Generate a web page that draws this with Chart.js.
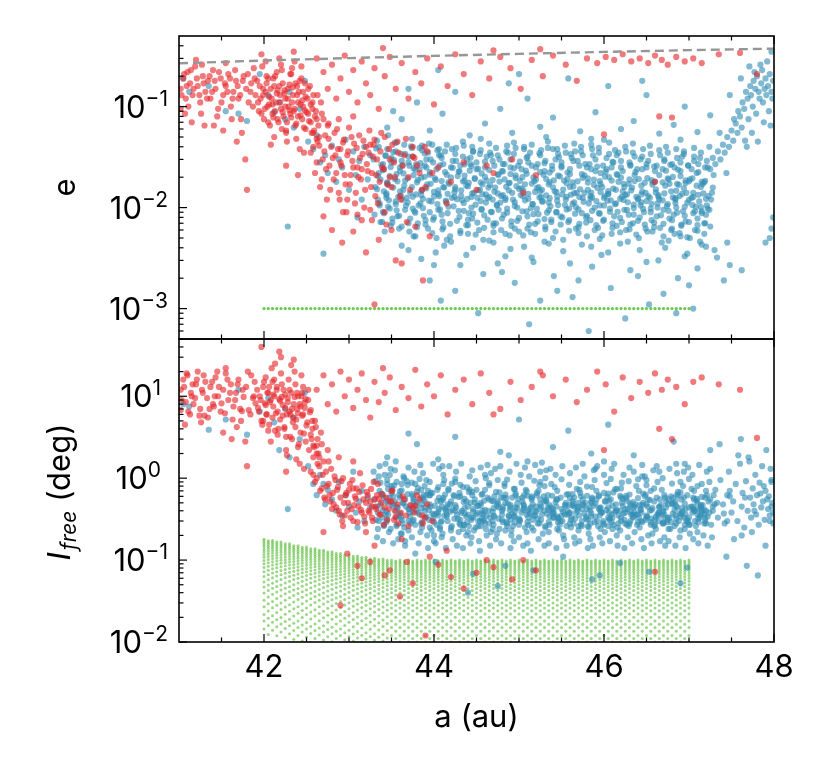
<!DOCTYPE html>
<html>
<head>
<meta charset="utf-8">
<script src="https://cdn.jsdelivr.net/npm/chart.js@4.4.0/dist/chart.umd.min.js"></script>
<style>
  body { margin: 0; background: #fff; }
  #wrap { position: relative; width: 830px; height: 775px; }
  #wrap canvas { position: absolute; left: 0; top: 0; }
</style>
</head>
<body>
<div id="wrap">
  <canvas id="topChart" width="830" height="775"></canvas>
  <canvas id="bottomChart" width="830" height="775"></canvas>
</div>
<script>
// particles: [a (au), e, I_free (deg)]
const blueCore = [
  [43.30,.0085,.55],[43.34,.012,.38],[43.31,.016,.92],[43.35,.022,.30],[43.29,.030,1.2],[43.33,.046,.45],
  [43.39,.0072,.33],[43.36,.011,.70],[43.41,.0145,.26],[43.37,.019,.48],[43.40,.027,.62],[43.35,.040,1.05],
  [43.40,.0091,.41],[43.44,.0125,.29],[43.45,.0175,.85],[43.41,.024,.57],[43.43,.033,.36],[43.46,.052,.74],
  [43.49,.0066,.24],[43.46,.0102,.50],[43.44,.0138,.39],[43.48,.0205,1.1],[43.50,.028,.66],[43.45,.038,.31],
  [43.51,.0078,.46],[43.55,.0115,.33],[43.52,.0158,.60],[43.56,.0215,.27],[43.50,.031,.80],[43.54,.044,.52],
  [43.59,.0062,.35],[43.56,.0094,.90],[43.61,.0132,.21],[43.57,.0182,.44],[43.60,.025,.58],[43.55,.036,.40],
  [43.59,.0083,.62],[43.63,.0120,.28],[43.64,.0150,.49],[43.60,.0230,.37],[43.62,.029,.71],[43.65,.042,1.0],
  [43.70,.0070,.30],[43.67,.0105,.45],[43.65,.0165,.25],[43.69,.0195,.83],[43.71,.026,.38],[43.66,.034,.55],
  [43.71,.0058,.42],[43.75,.0098,.60],[43.72,.0140,.34],[43.76,.0210,.52],[43.70,.032,.23],[43.74,.039,.88],
  [43.78,.0089,.27],[43.75,.0128,.39],[43.80,.0178,.68],[43.76,.0245,.31],[43.79,.027,.47],[43.74,.048,.64],
  [43.80,.0064,.51],[43.84,.0110,.22],[43.85,.0146,.43],[43.81,.0188,.76],[43.83,.024,.36],[43.86,.037,.29],
  [43.90,.0075,.33],[43.87,.0099,.56],[43.85,.0133,.28],[43.89,.0202,.40],[43.91,.030,.95],[43.86,.041,.48],
  [43.90,.0068,.44],[43.94,.0117,.31],[43.91,.0155,.62],[43.95,.0225,.25],[43.89,.026,.53],[43.93,.035,.70],
  [43.98,.0056,.37],[43.95,.0090,.48],[44.00,.0129,.20],[43.96,.0172,.66],[43.99,.028,.32],[43.94,.043,.41],
  [44.00,.0080,.29],[44.04,.0108,.72],[44.05,.0148,.39],[44.01,.0195,.46],[44.03,.024,.27],[44.06,.033,.58],
  [44.10,.0061,.54],[44.07,.0096,.25],[44.05,.0136,.35],[44.09,.0183,.30],[44.11,.027,.85],[44.06,.038,.42],
  [44.10,.0073,.21],[44.14,.0114,.40],[44.11,.0160,.57],[44.15,.0212,.34],[44.09,.031,.45],[44.13,.036,.63],
  [44.19,.0052,.39],[44.16,.0088,.30],[44.21,.0125,.26],[44.17,.0178,.74],[44.20,.025,.52],[44.15,.042,.36],
  [44.19,.0069,.48],[44.23,.0103,.62],[44.24,.0142,.32],[44.20,.0199,.23],[44.22,.029,.41],[44.25,.034,.90],
  [44.30,.0081,.28],[44.27,.0121,.36],[44.25,.0152,.47],[44.29,.0226,.59],[44.31,.026,.31],[44.26,.039,.44],
  [44.31,.0059,.60],[44.35,.0093,.27],[44.32,.0131,.38],[44.36,.0185,.43],[44.30,.023,.66],[44.34,.032,.24],
  [44.38,.0067,.34],[44.35,.0111,.51],[44.40,.0163,.22],[44.36,.0207,.37],[44.39,.030,.29],[44.34,.045,.78],
  [44.40,.0076,.45],[44.44,.0100,.33],[44.45,.0138,.68],[44.41,.0176,.26],[44.43,.027,.50],[44.46,.036,.39],
  [44.49,.0054,.25],[44.46,.0087,.42],[44.44,.0127,.31],[44.48,.0192,.55],[44.50,.024,.36],[44.45,.040,.62],
  [44.51,.0071,.38],[44.55,.0116,.26],[44.52,.0149,.46],[44.56,.0218,.32],[44.50,.028,.72],[44.54,.034,.30],
  [44.59,.0063,.53],[44.56,.0097,.37],[44.61,.0135,.24],[44.57,.0170,.64],[44.60,.025,.41],[44.55,.037,.47],
  [44.59,.0084,.31],[44.63,.0124,.58],[44.64,.0158,.40],[44.60,.0201,.28],[44.62,.032,.35],[44.65,.043,.82],
  [44.70,.0057,.43],[44.67,.0091,.22],[44.65,.0128,.55],[44.69,.0188,.39],[44.71,.026,.60],[44.66,.035,.33],
  [44.70,.0070,.27],[44.74,.0107,.46],[44.71,.0144,.34],[44.75,.0213,.49],[44.69,.029,.30],[44.73,.039,.68],
  [44.79,.0060,.58],[44.76,.0095,.32],[44.81,.0133,.45],[44.77,.0181,.24],[44.80,.023,.40],[44.75,.033,.52],
  [44.80,.0078,.36],[44.84,.0119,.63],[44.85,.0161,.29],[44.81,.0228,.42],[44.83,.027,.86],[44.86,.041,.26],
  [44.89,.0053,.41],[44.86,.0089,.28],[44.84,.0124,.50],[44.88,.0175,.35],[44.90,.025,.31],[44.85,.036,.57],
  [44.91,.0066,.23],[44.95,.0104,.39],[44.92,.0140,.37],[44.96,.0196,.65],[44.90,.030,.47],[44.94,.044,.34],
  [44.98,.0074,.49],[44.95,.0113,.34],[45.00,.0153,.27],[44.96,.0208,.44],[44.99,.026,.56],[44.94,.034,.74],
  [45.00,.0058,.32],[45.04,.0092,.52],[45.05,.0130,.41],[45.01,.0184,.30],[45.03,.024,.38],[45.06,.038,.46],
  [45.10,.0082,.61],[45.07,.0118,.25],[45.05,.0147,.48],[45.09,.0216,.36],[45.11,.028,.27],[45.06,.040,.43],
  [45.10,.0062,.29],[45.14,.0099,.44],[45.11,.0137,.33],[45.15,.0173,.57],[45.09,.031,.69],[45.13,.035,.37],
  [45.19,.0069,.40],[45.16,.0108,.31],[45.21,.0156,.62],[45.17,.0199,.23],[45.20,.025,.45],[45.15,.042,.55],
  [45.19,.0055,.35],[45.23,.0086,.70],[45.24,.0126,.28],[45.20,.0190,.39],[45.22,.027,.32],[45.25,.033,.48],
  [45.30,.0077,.52],[45.27,.0115,.36],[45.25,.0145,.42],[45.29,.0211,.60],[45.31,.029,.26],[45.26,.037,.31],
  [45.31,.0061,.25],[45.35,.0094,.41],[45.32,.0132,.54],[45.36,.0179,.34],[45.30,.023,.80],[45.34,.039,.44],
  [45.38,.0072,.44],[45.35,.0112,.29],[45.40,.0159,.37],[45.36,.0222,.47],[45.39,.026,.39],[45.34,.045,.62],
  [45.40,.0050,.33],[45.44,.0090,.55],[45.45,.0129,.24],[45.41,.0186,.38],[45.43,.030,.51],[45.46,.034,.29],
  [45.49,.0068,.58],[45.46,.0106,.32],[45.44,.0143,.45],[45.48,.0204,.27],[45.50,.025,.35],[45.45,.038,.70],
  [45.51,.0080,.30],[45.55,.0120,.46],[45.52,.0151,.39],[45.56,.0174,.63],[45.50,.028,.42],[45.54,.041,.36],
  [45.59,.0059,.47],[45.56,.0096,.26],[45.61,.0134,.31],[45.57,.0193,.40],[45.60,.024,.57],[45.55,.035,.50],
  [45.59,.0075,.37],[45.63,.0109,.64],[45.64,.0162,.49],[45.60,.0215,.28],[45.62,.031,.33],[45.65,.043,.45],
  [45.70,.0064,.26],[45.67,.0101,.38],[45.65,.0139,.58],[45.69,.0182,.43],[45.71,.026,.72],[45.66,.036,.32],
  [45.70,.0056,.50],[45.74,.0088,.30],[45.71,.0127,.35],[45.75,.0197,.55],[45.69,.029,.40],[45.73,.040,.27],
  [45.79,.0071,.34],[45.76,.0114,.47],[45.81,.0150,.26],[45.77,.0209,.37],[45.80,.025,.61],[45.75,.033,.48],
  [45.80,.0083,.42],[45.84,.0122,.28],[45.85,.0141,.52],[45.81,.0177,.31],[45.83,.027,.44],[45.86,.038,.78],
  [45.89,.0060,.29],[45.86,.0093,.56],[45.84,.0131,.40],[45.88,.0189,.46],[45.90,.023,.34],[45.85,.042,.37],
  [45.91,.0067,.55],[45.95,.0105,.35],[45.92,.0157,.30],[45.96,.0220,.24],[45.90,.030,.49],[45.94,.035,.60],
  [45.98,.0053,.38],[45.95,.0087,.43],[46.00,.0125,.66],[45.96,.0171,.39],[45.99,.026,.28],[45.94,.039,.42],
  [46.00,.0076,.27],[46.04,.0117,.59],[46.05,.0146,.33],[46.01,.0203,.52],[46.03,.024,.41],[46.06,.034,.31],
  [46.10,.0063,.46],[46.07,.0098,.32],[46.05,.0136,.44],[46.09,.0185,.29],[46.11,.028,.67],[46.06,.044,.53],
  [46.10,.0070,.33],[46.14,.0110,.48],[46.11,.0154,.27],[46.15,.0214,.41],[46.09,.025,.36],[46.13,.037,.39],
  [46.19,.0057,.61],[46.16,.0091,.25],[46.21,.0128,.50],[46.17,.0180,.35],[46.20,.029,.30],[46.15,.033,.74],
  [46.19,.0079,.40],[46.23,.0119,.37],[46.24,.0160,.31],[46.20,.0198,.58],[46.22,.023,.46],[46.25,.040,.28],
  [46.30,.0061,.28],[46.27,.0095,.53],[46.25,.0133,.42],[46.29,.0172,.26],[46.31,.026,.39],[46.26,.036,.57],
  [46.31,.0068,.49],[46.35,.0107,.34],[46.32,.0148,.36],[46.36,.0210,.45],[46.30,.028,.63],[46.34,.043,.33],
  [46.38,.0054,.36],[46.35,.0085,.44],[46.40,.0123,.29],[46.36,.0183,.38],[46.39,.024,.27],[46.34,.035,.51],
  [46.40,.0074,.57],[46.44,.0113,.30],[46.45,.0144,.47],[46.41,.0192,.33],[46.43,.030,.42],[46.46,.038,.65],
  [46.49,.0062,.31],[46.46,.0097,.50],[46.44,.0135,.38],[46.48,.0176,.60],[46.50,.025,.35],[46.45,.032,.29],
  [46.51,.0058,.45],[46.55,.0090,.27],[46.52,.0130,.55],[46.56,.0187,.32],[46.50,.027,.48],[46.54,.041,.40],
  [46.59,.0071,.26],[46.56,.0109,.41],[46.61,.0141,.34],[46.57,.0169,.43],[46.60,.023,.31],[46.55,.034,.70],
  [46.59,.0064,.52],[46.63,.0100,.36],[46.64,.0128,.30],[46.60,.0181,.27],[46.62,.026,.58],[46.65,.037,.38],
  [46.70,.0052,.34],[46.67,.0084,.47],[46.65,.0121,.44],[46.69,.0178,.39],[46.71,.029,.36],[46.66,.033,.55],
  [46.70,.0069,.40],[46.74,.0104,.29],[46.71,.0138,.62],[46.75,.0195,.48],[46.69,.024,.28],[46.73,.040,.44],
  [46.79,.0060,.29],[46.76,.0093,.55],[46.81,.0126,.37],[46.77,.0172,.33],[46.80,.027,.50],[46.75,.035,.31],
  [46.80,.0075,.48],[46.84,.0111,.35],[46.85,.0147,.28],[46.81,.0201,.57],[46.83,.025,.41],[46.86,.031,.63],
  [46.89,.0056,.37],[46.86,.0089,.44],[46.84,.0124,.52],[46.88,.0168,.30],[46.90,.028,.34],[46.85,.038,.46],
  [46.91,.0066,.55],[46.95,.0102,.27],[46.92,.0137,.39],[46.96,.0186,.42],[46.90,.023,.67],[46.94,.034,.33],
  [46.98,.0051,.31],[46.95,.0083,.49],[47.00,.0119,.33],[46.96,.0175,.36],[46.99,.026,.29],[46.94,.036,.58],
  [47.00,.0072,.44],[47.04,.0106,.38],[47.05,.0140,.58],[47.01,.0190,.27],[47.03,.024,.45],[47.06,.032,.40],
  [47.10,.0059,.36],[47.07,.0092,.30],[47.05,.0127,.42],[47.09,.0165,.53],[47.11,.027,.32],[47.06,.039,.70],
  [47.10,.0067,.50],[47.14,.0101,.43],[47.11,.0134,.29],[47.15,.0180,.38],[47.09,.022,.56],[47.13,.031,.35],
  [47.18,.0055,.28],[47.15,.0088,.59],[47.20,.0122,.40],[47.16,.0171,.47],[47.19,.025,.33],[47.14,.035,.45],
  [47.18,.0070,.41],[47.22,.0098,.34],[47.23,.0130,.52],[47.19,.0184,.30],[47.21,.029,.62],[47.24,.040,.38]
];
const blueCore2 = [
  [43.36,.0105,1.4],[43.33,.0152,.19],[43.38,.0265,.65],[43.32,.0385,.31],[43.37,.0072,.88],[43.34,.0205,.24],
  [43.42,.0058,1.1],[43.44,.0133,.52],[43.40,.0235,.17],[43.43,.0325,1.5],[43.41,.0088,.27],[43.45,.0178,.95],
  [43.47,.0118,.22],[43.51,.0071,.74],[43.49,.0252,1.3],[43.46,.0168,.36],[43.52,.0355,.16],[43.48,.0098,.58],
  [43.57,.0082,.44],[43.54,.0192,1.25],[43.58,.0128,.18],[43.53,.0295,.82],[43.56,.0440,.26],[43.55,.0108,1.6],
  [43.62,.0065,.21],[43.60,.0145,.69],[43.64,.0218,1.05],[43.61,.0340,.33],[43.66,.0095,.15],[43.63,.0262,.50],
  [43.68,.0125,.92],[43.72,.0078,.28],[43.66,.0185,.17],[43.70,.0280,1.35],[43.73,.0405,.46],[43.69,.0112,.64],
  [43.76,.0052,.55],[43.74,.0160,.19],[43.78,.0238,.85],[43.77,.0092,1.2],[43.75,.0320,.30],[43.79,.0135,.41],
  [43.82,.0105,.16],[43.85,.0198,.72],[43.81,.0070,.38],[43.84,.0275,1.45],[43.86,.0150,.25],[43.83,.0390,.98],
  [43.88,.0083,.62],[43.92,.0170,.20],[43.87,.0122,1.15],[43.91,.0250,.34],[43.93,.0062,.14],[43.89,.0345,.80],
  [43.97,.0115,.23],[43.95,.0212,.90],[43.99,.0076,1.5],[43.96,.0300,.45],[44.00,.0143,.17],[43.98,.0420,.66],
  [44.03,.0050,.37],[44.06,.0130,1.3],[44.02,.0188,.16],[44.05,.0095,.78],[44.07,.0262,.24],[44.04,.0370,.53],
  [44.12,.0158,.95],[44.09,.0085,.19],[44.13,.0225,.42],[44.11,.0064,1.1],[44.08,.0330,.29],[44.14,.0117,.14],
  [44.17,.0102,.71],[44.20,.0046,.25],[44.18,.0172,1.4],[44.22,.0248,.18],[44.16,.0137,.48],[44.21,.0380,.86],
  [44.27,.0074,.15],[44.24,.0128,.60],[44.28,.0205,.32],[44.26,.0290,1.2],[44.29,.0093,.22],[44.25,.0160,.99],
  [44.33,.0118,.40],[44.31,.0056,.83],[44.34,.0182,.14],[44.36,.0268,.56],[44.32,.0148,1.5],[44.35,.0410,.27],
  [44.41,.0088,.68],[44.38,.0165,.20],[44.42,.0232,1.05],[44.40,.0067,.36],[44.43,.0312,.16],[44.39,.0122,.77],
  [44.47,.0140,.23],[44.45,.0078,1.25],[44.48,.0196,.50],[44.44,.0258,.19],[44.49,.0107,.92],[44.46,.0360,.33],
  [44.53,.0060,.17],[44.51,.0125,.46],[44.55,.0178,1.35],[44.52,.0242,.26],[44.56,.0095,.63],[44.54,.0150,.13],
  [44.61,.0112,1.0],[44.58,.0048,.30],[44.62,.0185,.20],[44.60,.0285,.72],[44.57,.0135,.40],[44.63,.0076,1.45],
  [44.66,.0167,.15],[44.68,.0090,.53],[44.65,.0235,.87],[44.69,.0120,.24],[44.67,.0330,1.15],[44.70,.0066,.35],
  [44.74,.0105,.21],[44.72,.0158,1.3],[44.76,.0212,.44],[44.73,.0070,.18],[44.77,.0300,.67],[44.75,.0138,.95],
  [44.82,.0085,.58],[44.79,.0130,.16],[44.83,.0190,.80],[44.81,.0270,.29],[44.78,.0112,1.4],[44.84,.0055,.23],
  [44.88,.0148,.34],[44.86,.0098,.96],[44.90,.0215,.14],[44.87,.0350,.49],[44.91,.0073,.20],[44.89,.0176,1.2],
  [44.95,.0062,.74],[44.93,.0120,.26],[44.97,.0163,1.5],[44.94,.0245,.17],[44.98,.0100,.43],[44.96,.0390,.62],
  [45.02,.0133,1.1],[45.00,.0079,.19],[45.04,.0200,.58],[45.01,.0285,.31],[45.05,.0053,.15],[45.03,.0155,.88],
  [45.09,.0092,.22],[45.07,.0170,1.35],[45.11,.0122,.39],[45.08,.0232,.72],[45.12,.0068,1.05],[45.10,.0320,.16],
  [45.16,.0108,.48],[45.14,.0057,.13],[45.18,.0182,.93],[45.15,.0260,.25],[45.19,.0143,1.45],[45.17,.0086,.35],
  [45.23,.0160,.18],[45.21,.0097,.66],[45.25,.0225,1.2],[45.22,.0073,.28],[45.26,.0127,.45],[45.24,.0345,.82],
  [45.31,.0065,1.0],[45.28,.0115,.21],[45.32,.0192,.52],[45.30,.0275,.15],[45.27,.0150,1.55],[45.33,.0089,.37],
  [45.36,.0124,.27],[45.38,.0076,.85],[45.35,.0170,.16],[45.39,.0238,.61],[45.37,.0103,1.3],[45.40,.0380,.42],
  [45.44,.0090,.14],[45.42,.0145,.78],[45.46,.0207,.33],[45.43,.0058,1.1],[45.47,.0315,.23],[45.45,.0117,.55],
  [45.51,.0135,1.4],[45.49,.0082,.30],[45.53,.0185,.18],[45.50,.0258,.97],[45.54,.0106,.47],[45.52,.0048,.20],
  [45.58,.0072,.64],[45.56,.0128,.15],[45.60,.0160,1.15],[45.57,.0222,.36],[45.61,.0338,.25],[45.59,.0098,.83],
  [45.65,.0113,.19],[45.63,.0178,.53],[45.67,.0062,1.35],[45.64,.0290,.28],[45.68,.0140,.74],[45.66,.0087,.16],
  [45.72,.0152,.90],[45.70,.0096,.23],[45.74,.0215,.42],[45.71,.0069,.17],[45.75,.0125,1.5],[45.73,.0360,.60],
  [45.79,.0080,.32],[45.77,.0140,1.05],[45.81,.0195,.14],[45.78,.0270,.50],[45.82,.0110,.21],[45.80,.0052,.79],
  [45.86,.0126,.58],[45.84,.0075,.18],[45.88,.0168,1.25],[45.85,.0240,.34],[45.89,.0100,.95],[45.87,.0330,.15],
  [45.93,.0063,.26],[45.91,.0116,.70],[45.95,.0183,.19],[45.92,.0255,1.4],[45.96,.0142,.44],[45.94,.0088,.62],
  [46.00,.0105,1.1],[45.98,.0160,.16],[46.02,.0227,.52],[45.99,.0074,.30],[46.03,.0310,.87],[46.01,.0130,.22],
  [46.07,.0091,.17],[46.05,.0137,.65],[46.09,.0055,1.3],[46.06,.0200,.38],[46.10,.0283,.24],[46.08,.0118,.98],
  [46.14,.0150,.40],[46.12,.0082,1.5],[46.16,.0210,.15],[46.13,.0108,.73],[46.17,.0350,.28],[46.15,.0066,.20],
  [46.21,.0072,.88],[46.19,.0122,.23],[46.23,.0172,1.1],[46.20,.0250,.33],[46.24,.0095,.14],[46.22,.0145,.56],
  [46.28,.0113,.19],[46.26,.0060,.61],[46.30,.0190,1.35],[46.27,.0135,.27],[46.31,.0265,.46],[46.29,.0085,.92],
  [46.35,.0099,1.2],[46.33,.0158,.16],[46.37,.0225,.48],[46.34,.0070,.36],[46.38,.0128,.80],[46.36,.0320,.22],
  [46.42,.0080,.25],[46.40,.0120,.97],[46.44,.0165,.18],[46.41,.0050,.70],[46.45,.0240,1.45],[46.43,.0105,.41],
  [46.49,.0140,.63],[46.47,.0090,.14],[46.51,.0196,.34],[46.48,.0068,1.05],[46.52,.0290,.20],[46.50,.0116,.82],
  [46.56,.0075,.16],[46.54,.0125,.54],[46.58,.0178,1.25],[46.55,.0098,.29],[46.59,.0255,.75],[46.57,.0058,.21],
  [46.63,.0110,.90],[46.61,.0152,.24],[46.65,.0210,.45],[46.62,.0082,1.4],[46.66,.0063,.17],[46.64,.0133,.38],
  [46.70,.0095,.28],[46.68,.0045,.72],[46.72,.0165,.15],[46.69,.0118,1.0],[46.73,.0232,.52],[46.71,.0300,.19],
  [46.77,.0078,1.3],[46.75,.0108,.33],[46.79,.0145,.60],[46.76,.0190,.17],[46.80,.0062,.86],[46.78,.0265,.24],
  [46.84,.0120,.15],[46.82,.0085,.49],[46.86,.0172,1.15],[46.83,.0055,.26],[46.87,.0238,.68],[46.85,.0100,1.5],
  [46.91,.0068,.37],[46.89,.0130,.19],[46.93,.0092,.80],[46.90,.0205,.23],[46.94,.0155,1.2],[46.92,.0320,.43],
  [46.98,.0112,.62],[46.96,.0073,.14],[47.00,.0182,.98],[46.97,.0140,.30],[47.01,.0050,.21],[46.99,.0262,1.35],
  [47.05,.0088,.18],[47.03,.0125,.74],[47.07,.0060,.40],[47.04,.0195,1.1],[47.08,.0102,.26],[47.06,.0290,.55],
  [47.12,.0115,1.45],[47.10,.0078,.22],[47.14,.0160,.47],[47.11,.0225,.16],[47.15,.0092,.85],[47.13,.0046,.33],
  [47.19,.0070,.58],[47.17,.0138,.20],[47.21,.0105,1.2],[47.18,.0178,.36],[47.22,.0250,.15],[47.20,.0085,.70],
  [47.26,.0120,.27],[47.24,.0095,.90],[47.28,.0158,.45],[47.25,.0065,1.3],[47.29,.0210,.62],[47.27,.0140,.19]
];
const blueLow = [
  [43.62,.0042,.31],[43.85,.0031,.58],[44.02,.0036,.095],[44.15,.0048,.44],[44.31,.0027,.27],[44.46,.0040,.068],
  [44.58,.0022,.36],[44.70,.0045,.52],[44.84,.0033,.085],[44.95,.0018,.29],[45.06,.0041,.62],[45.17,.0029,.075],
  [45.30,.0046,.40],[45.41,.0021,.33],[45.52,.0037,.11],[45.63,.0013,.46],[45.74,.0043,.26],[45.86,.0026,.058],
  [45.97,.0034,.38],[46.08,.0016,.55],[46.19,.0044,.092],[46.31,.0024,.30],[46.42,.0038,.47],[46.53,.0011,.072],
  [46.64,.0030,.35],[46.76,.0047,.24],[46.87,.0020,.61],[46.98,.0035,.081],[47.10,.0025,.42],[47.20,.0041,.28],
  [47.33,.0032,.50],[47.41,.0019,.37],[44.52,.0009,.30],[45.12,.0007,.42],[45.82,.0006,.25],[44.08,.0012,.52],
  [46.25,.0008,.38],[47.05,.0010,.45],[43.95,.0019,.62],[45.45,.0015,.34],[46.70,.0014,.29],[47.48,.0027,.60],
  [44.75,.0028,.048],[45.95,.0049,.065],[46.90,.0052,.052],[43.78,.0052,.12],[47.62,.0024,.20],[47.90,.0045,.15],
  [47.97,.0062,.9],[44.40,.0055,.04],
  [44.12,.0042,.35],[44.38,.0034,.52],[44.65,.0047,.28],[44.90,.0039,.44],[45.15,.0032,.60],[45.35,.0044,.22],
  [45.60,.0028,.38],[45.85,.0041,.50],[46.05,.0036,.26],[46.28,.0046,.42],[46.50,.0029,.33],[46.72,.0040,.58],
  [46.95,.0033,.24],[47.15,.0043,.40],[44.80,.0023,.31],[45.70,.0019,.45],[46.40,.0021,.36],[47.00,.0017,.27],
  [45.25,.0012,.55],[46.85,.0009,.32],[44.25,.0015,.40],[47.30,.0038,.48],[47.45,.0045,.30],[43.70,.0038,.42],
  [44.00,.0027,.36]
];
const blueHigh = [
  [43.45,.062,1.8],[43.62,.075,.85],[43.80,.11,2.6],[43.95,.058,.62],[44.10,.085,1.4],[44.25,.14,3.2],
  [44.42,.052,.72],[44.60,.068,1.1],[44.78,.095,2.1],[44.92,.055,.58],[45.10,.12,1.6],[45.25,.063,.90],
  [45.40,.078,2.4],[45.58,.19,3.8],[45.72,.057,.66],[45.90,.088,1.3],[46.05,.16,4.5],[46.20,.060,.75],
  [46.35,.072,1.9],[46.50,.13,.95],[46.65,.054,1.2],[46.82,.066,2.8],[46.95,.10,1.5],[47.10,.056,.80],
  [47.25,.082,2.2],[44.05,.23,1.7],[45.00,.21,5.2],[46.45,.18,1.05],[43.70,.15,3.5],[45.85,.048,2.0],
  [44.55,.048,.50],[46.00,.047,1.6],[46.90,.047,.9],[44.88,.17,1.9],[43.52,.09,.48],[45.32,.05,1.25]
];
const blueRes = [
  [47.25,.024,.55],[47.28,.031,.40],[47.31,.027,.72],[47.34,.036,.33],[47.37,.030,.95],[47.40,.042,.48],
  [47.42,.035,.28],[47.45,.050,.62],[47.47,.040,1.2],[47.50,.058,.38],[47.52,.046,.52],[47.55,.068,.85],
  [47.57,.055,.30],[47.60,.080,1.5],[47.62,.062,.45],[47.63,.11,.66],[47.65,.095,.25],[47.67,.14,.92],
  [47.69,.12,.40],[47.70,.075,1.8],[47.72,.16,.58],[47.73,.13,.33],[47.75,.10,.75],[47.76,.18,.48],
  [47.78,.15,1.1],[47.79,.085,.36],[47.80,.20,.62],[47.82,.14,.27],[47.83,.12,.88],[47.85,.17,.44],
  [47.86,.23,1.4],[47.87,.11,.52],[47.89,.15,.31],[47.90,.19,.70],[47.91,.13,2.2],[47.93,.16,.42],
  [47.94,.09,.60],[47.95,.21,.35],[47.97,.14,.95],[47.98,.12,.50],[47.99,.18,.28],[47.96,.065,1.3],
  [47.88,.07,.80],[47.74,.055,.22],[47.66,.046,.58],[47.58,.09,1.9],[47.84,.26,.65],[47.77,.22,.40],
  [47.92,.28,.55],[47.61,.19,3.0],[47.53,.075,.18],[47.48,.13,.70],[47.68,.040,.085],[47.81,.045,.065],
  [47.44,.022,.11],[47.36,.055,2.6],[47.71,.25,1.6],[47.97,.35,.45],[47.99,.008,.38],[47.95,.005,.30]
];
const blueInner = [
  [41.05,.19,8.0],[41.12,.14,7.5],[41.35,.16,3.9],[41.55,.09,5.2],[41.70,.085,12],[41.80,.072,3.4],
  [41.95,.21,6.5],[42.05,.13,9.5],[42.12,.088,4.8],[42.18,.11,2.2],[42.25,.075,7.0],[42.30,.14,1.8],
  [42.35,.062,5.5],[42.42,.095,3.0],[42.48,.18,11],[42.52,.045,1.4],[42.58,.038,.85],[42.62,.052,.62],
  [42.66,.028,1.1],[42.72,.033,.48],[42.75,.022,.72],[42.80,.041,.55],[42.85,.018,.40],[42.88,.030,.90],
  [42.92,.025,.35],[42.96,.047,.62],[43.00,.015,.45],[43.05,.036,1.2],[43.08,.021,.38],[43.12,.029,.52],
  [43.15,.012,.70],[43.18,.040,.30],[43.22,.019,.58],[43.25,.033,.44],[42.70,.0035,.85],[42.28,.0065,.42],
  [43.10,.008,.25]
];
const redInner = [
  [41.02,.15,12],[41.05,.19,16],[41.08,.12,8.5],[41.10,.22,18],[41.13,.17,6.0],[41.16,.13,14],
  [41.19,.25,9.5],[41.22,.16,20],[41.25,.11,7.0],[41.28,.20,11],[41.31,.14,15],[41.34,.18,5.5],
  [41.37,.12,13],[41.40,.23,8.0],[41.43,.15,17],[41.46,.095,10],[41.49,.19,6.5],[41.52,.13,12],
  [41.55,.16,19],[41.58,.21,9.0],[41.61,.10,14],[41.64,.14,7.5],[41.67,.18,11],[41.70,.12,16],
  [41.73,.075,5.0],[41.76,.20,9.8],[41.79,.15,13],[41.82,.11,6.8],[41.85,.17,18],[41.88,.24,10],
  [41.07,.085,4.5],[41.30,.065,5.8],[41.52,.058,3.6],[41.68,.045,4.2],[41.78,.030,2.8],[41.80,.015,1.4],
  [41.55,.27,22],[41.20,.29,14],[41.45,.08,20],[41.90,.13,8.2],
  [41.92,.18,12],[41.94,.09,6.5],[41.96,.12,9.0],[41.98,.25,4.5],[42.00,.075,15],[42.02,.14,7.8],
  [42.04,.10,11],[42.05,.19,3.8],[42.07,.065,8.5],[42.09,.12,22],[42.10,.085,5.5],[42.12,.16,10],
  [42.14,.11,6.2],[42.15,.22,13],[42.17,.07,4.0],[42.19,.13,8.8],[42.20,.095,30],[42.22,.17,5.8],
  [42.23,.08,12],[42.25,.12,7.2],[42.26,.058,3.2],[42.28,.15,9.5],[42.29,.10,16],[42.31,.21,6.0],
  [42.32,.078,11],[42.34,.13,4.8],[42.35,.09,8.0],[42.37,.17,14],[42.38,.068,5.2],[42.40,.11,10],
  [42.41,.14,2.6],[42.43,.082,7.5],[42.44,.19,18],[42.46,.10,6.0],[42.47,.062,3.5],[42.49,.125,9.2],
  [42.50,.088,4.4],[42.52,.15,12],[42.53,.072,2.2],[42.55,.105,6.8],[42.56,.055,3.0],[42.58,.13,1.8],
  [42.60,.08,5.0],[42.62,.048,2.5],[41.97,.33,40],[42.18,.30,35],[42.36,.28,20],[42.08,.042,2.8],
  [42.27,.045,1.9],[42.42,.038,1.5],[42.13,.20,25],[42.33,.24,3.0],[41.99,.15,5.0],[42.21,.06,9.8],
  [42.39,.16,7.0],[42.45,.115,11],[42.24,.135,4.2],[42.06,.105,13],[42.30,.092,6.5],[42.16,.145,3.4],
  [42.48,.17,8.4],[42.11,.078,10.5],[42.03,.2,6.0],[42.57,.095,4.0],[42.64,.065,2.0],[42.67,.11,3.6],
  [42.70,.075,1.6],[42.35,.35,28],[42.26,.026,1.2],[42.40,.021,2.4]
];
const redInner2 = [
  [41.03,.13,9.0],[41.06,.21,13],[41.09,.16,19],[41.11,.10,6.5],[41.14,.23,11],[41.17,.15,8.0],
  [41.21,.19,16],[41.24,.13,5.8],[41.27,.26,12],[41.29,.17,18],[41.33,.12,9.5],[41.36,.20,7.0],
  [41.39,.14,15],[41.42,.18,10],[41.47,.22,13],[41.50,.11,8.2],[41.54,.17,6.2],[41.57,.14,16],
  [41.60,.19,11],[41.63,.12,5.2],[41.66,.23,9.0],[41.69,.16,14],[41.72,.13,7.0],[41.75,.18,12],
  [41.81,.21,20],[41.84,.14,6.0],[41.87,.10,9.5],[41.89,.19,15],[41.02,.095,6.8],[41.15,.07,10],
  [41.26,.085,4.8],[41.41,.065,7.5],[41.62,.075,3.0],[41.74,.055,6.6],
  [41.93,.11,7.2],[41.95,.16,10],[41.97,.085,5.0],[41.99,.13,13],[42.01,.095,8.2],[42.03,.17,6.0],
  [42.05,.07,11],[42.06,.125,4.5],[42.08,.15,9.0],[42.10,.105,15],[42.11,.19,7.5],[42.13,.09,3.8],
  [42.15,.135,12],[42.16,.075,6.5],[42.18,.16,9.2],[42.19,.11,5.2],[42.21,.23,14],[42.22,.088,7.8],
  [42.24,.145,4.0],[42.25,.10,10.5],[42.27,.07,6.0],[42.28,.12,8.5],[42.30,.165,12],[42.31,.085,3.2],
  [42.33,.11,7.0],[42.34,.155,5.5],[42.36,.095,9.8],[42.37,.065,4.2],[42.39,.13,11],[42.40,.08,6.2],
  [42.42,.18,8.0],[42.43,.105,3.6],[42.45,.075,5.8],[42.46,.14,13],[42.48,.092,7.2],[42.49,.06,2.8],
  [42.51,.12,4.8],[42.52,.085,9.0],[42.54,.16,6.4],[42.55,.07,3.4],[42.57,.11,5.0],[42.59,.058,2.4],
  [42.61,.09,4.2],[42.63,.13,3.0],[42.65,.05,1.8],[42.68,.085,2.6],[42.12,.05,16],[42.26,.055,2.2],
  [42.38,.048,1.7],[42.20,.26,19],[42.32,.21,24],[42.44,.25,10],[42.02,.28,17],[42.47,.035,1.3],
  [42.58,.04,1.1]
];
const redMid = [
  [42.55,.035,1.2],[42.60,.022,.90],[42.63,.045,1.5],[42.66,.016,.70],[42.69,.030,1.1],[42.72,.052,.55],
  [42.74,.012,.80],[42.77,.026,.62],[42.79,.040,1.3],[42.82,.019,.48],[42.84,.033,.95],[42.86,.060,.72],
  [42.88,.014,.40],[42.90,.028,.58],[42.93,.044,1.0],[42.95,.021,.35],[42.97,.009,.66],[42.99,.036,.50],
  [43.01,.017,.85],[43.03,.050,.42],[43.05,.025,.30],[43.07,.011,.60],[43.09,.039,.75],[43.11,.020,.45],
  [43.13,.031,1.15],[43.15,.0075,.38],[43.17,.046,.55],[43.19,.015,.28],[43.21,.027,.68],[43.23,.035,.40],
  [43.25,.0095,.52],[43.27,.022,.33],[43.29,.042,.90],[43.31,.013,.45],[43.33,.030,.62],[43.36,.018,.36],
  [43.38,.055,.50],[43.41,.024,.27],[43.44,.0068,.58],[43.47,.038,.42],[43.50,.016,.70],[43.53,.028,.31],
  [43.57,.045,.48],[43.61,.012,.38],[43.65,.033,.55],[43.70,.020,.26],[43.75,.040,.44],[43.80,.026,.62],
  [43.86,.015,.35],[43.92,.036,.48],[43.98,.022,.30],[42.80,.006,.42],[42.92,.0045,.30],[43.05,.0058,.75],
  [43.20,.0036,.22],[43.35,.0048,.56],[43.55,.0030,.34],[43.78,.0065,.46],[43.30,.0011,.15],[43.87,.0019,.28],
  [43.62,.0028,.18],[43.10,.0085,.085],[42.98,.012,.12],[43.42,.009,.065],[43.68,.0072,.095],[43.95,.0052,.11],
  [42.70,.0082,.22],[42.58,.055,2.5],[42.62,.075,2.0],[42.76,.068,1.6]
];
const redMid2 = [
  [42.62,.028,1.0],[42.65,.041,1.4],[42.68,.019,.75],[42.71,.036,.58],[42.73,.024,1.2],[42.76,.048,.85],
  [42.78,.015,.52],[42.81,.031,.66],[42.83,.055,1.05],[42.85,.022,.44],[42.87,.038,.78],[42.89,.012,.36],
  [42.91,.026,.92],[42.94,.047,.50],[42.96,.017,.62],[42.98,.033,.40],[43.00,.062,.72],[43.02,.021,.33],
  [43.04,.029,.95],[43.06,.043,.47],[43.08,.014,.56],[43.10,.025,.29],[43.12,.052,.68],[43.14,.019,.41],
  [43.16,.034,.82],[43.18,.010,.34],[43.20,.040,.50],[43.22,.023,.62],[43.24,.058,.38],[43.26,.016,.74],
  [43.28,.032,.30],[43.30,.047,.55],[43.32,.021,.42],[43.34,.011,.85],[43.37,.036,.36],[43.39,.025,.64],
  [43.42,.050,.44],[43.45,.017,.31],[43.48,.030,.52],[43.51,.042,.70],[43.54,.020,.40],[43.58,.035,.28],
  [43.63,.026,.60],[43.67,.048,.35],[43.72,.015,.47],[43.77,.031,.38],[43.83,.022,.55],[43.89,.040,.33],
  [42.75,.065,2.2],[42.88,.075,1.8],[43.05,.08,1.6],[42.93,.009,.26],[43.27,.0075,.45],[43.50,.006,.52]
];
const redLow = [
  [43.48,.020,.075],[43.75,.032,.052],[44.05,.025,.088],[44.20,.018,.062],[44.35,.028,.045],[44.50,.015,.07],
  [44.70,.022,.082],[44.92,.030,.058],[43.25,.042,.095],[43.60,.013,.036],[44.15,.011,.13],[44.62,.026,.10],
  [42.90,.038,.028],[43.90,.016,.012],[43.15,.024,.06],[45.20,.021,.075],[46.60,.018,.072],[45.05,.014,.10]
];
const redHigh = [
  [42.62,.30,12],[42.70,.22,18],[42.75,.15,8.0],[42.80,.26,14],[42.85,.12,6.5],[42.90,.19,20],
  [42.95,.32,10],[43.00,.14,16],[43.05,.23,7.2],[43.10,.11,12],[43.15,.28,19],[43.20,.17,9.0],
  [43.25,.13,5.5],[43.30,.24,15],[43.35,.095,8.5],[43.42,.20,11],[43.48,.31,17],[43.55,.15,6.8],
  [43.62,.27,13],[43.70,.12,9.5],[43.78,.22,21],[43.85,.17,7.5],[43.92,.30,14],[44.00,.105,10],
  [44.08,.25,18],[44.16,.16,6.0],[44.25,.33,12],[44.35,.21,16],[44.45,.13,8.0],[44.55,.28,19],
  [44.65,.19,11],[44.78,.31,7.0],[44.90,.24,15],[45.02,.15,9.0],[45.15,.29,13],[45.28,.20,18],
  [45.40,.32,10],[45.55,.26,16],[45.68,.18,8.5],[45.80,.30,12],[45.92,.27,20],[46.02,.31,14],
  [46.12,.29,6.5],[46.22,.33,17],[46.32,.28,9.5],[46.42,.30,15],[46.52,.27,11],[46.60,.32,19],
  [46.68,.29,12],[46.75,.26,16],[46.85,.31,13],[46.95,.28,8.0],[47.05,.30,15],[47.15,.27,17],
  [47.35,.33,14],[47.60,.34,12],[46.00,.053,2.2],[46.65,.080,4.0],[46.80,.078,3.0],[43.40,.38,22],
  [44.70,.36,6.0],[45.25,.37,20],[47.80,.21,3.1]
];

// initial-condition grid (green)
const greenA = [
  42,42.05,42.1,42.15,42.2,42.25,42.3,42.35,42.4,42.45,42.5,42.55,42.6,42.65,42.7,42.75,42.8,42.85,42.9,42.95,
  43,43.05,43.1,43.15,43.2,43.25,43.3,43.35,43.4,43.45,43.5,43.55,43.6,43.65,43.7,43.75,43.8,43.85,43.9,43.95,
  44,44.05,44.1,44.15,44.2,44.25,44.3,44.35,44.4,44.45,44.5,44.55,44.6,44.65,44.7,44.75,44.8,44.85,44.9,44.95,
  45,45.05,45.1,45.15,45.2,45.25,45.3,45.35,45.4,45.45,45.5,45.55,45.6,45.65,45.7,45.75,45.8,45.85,45.9,45.95,
  46,46.05,46.1,46.15,46.2,46.25,46.3,46.35,46.4,46.45,46.5,46.55,46.6,46.65,46.7,46.75,46.8,46.85,46.9,46.95,
  47
];
const greenE = 0.001;
const greenCap = [.18,.177,.174,.17,.166,.162,.158,.154,.15,.147,.144,.141,.138,.135,.132,.129,.126,.123,.12,.118,
  .116,.114,.112,.11,.108,.106,.105,.104,.103,.102,.1];
const greenBaseCap = 0.1;
const greenFracEven = [1,.95,.9,.85,.8,.75,.7,.65,.6,.55,.5,.45,.4,.35,.3,.26,.22,.18,.15,.12,.1,.08];
const greenFracOdd = [.975,.925,.875,.825,.775,.725,.675,.625,.575,.525,.475,.425,.375,.325,.28,.24,.2,.165,.135,.11,.09,.07];

// q = 30 au boundary
const lineA = [41, 42, 43, 44, 45, 46, 47, 48];
const lineE = [.268, .286, .302, .318, .333, .348, .362, .375];

const xMajor = [42, 44, 46, 48];
const xMinor = [41.5, 42.5, 43, 43.5, 44.5, 45, 45.5, 46.5, 47, 47.5];
const xLabels = ['42', '44', '46', '48'];
const eMajor = [0.001, 0.01, 0.1];
const eExp = ['−3', '−2', '−1'];
const eMinor = [.0005,.0006,.0007,.0008,.0009,.002,.003,.004,.005,.006,.007,.008,.009,
  .02,.03,.04,.05,.06,.07,.08,.09,.2,.3,.4];
const iMajor = [0.01, 0.1, 1, 10];
const iExp = ['−2', '−1', '0', '1'];
const iMinor = [.02,.03,.04,.05,.06,.07,.08,.09,.2,.3,.4,.5,.6,.7,.8,.9,2,3,4,5,6,7,8,9,20,30,40];

const BLUE = 'rgba(50,142,181,0.62)';
const RED = 'rgba(230,38,44,0.62)';
const DOT = 3.1;
const FONT = 'Inter';

const blueAll = blueCore.concat(blueCore2, blueLow, blueHigh, blueRes, blueInner);
const redAll = redInner.concat(redInner2, redMid, redMid2, redLow, redHigh);

function pts(list, k) {
  return list.map(p => ({x: p[0], y: p[k]}));
}

let greenGrid = [];
greenA.forEach((a, i) => {
  let cap = i < greenCap.length ? greenCap[i] : greenBaseCap;
  let fr = i % 2 ? greenFracOdd : greenFracEven;
  fr.forEach(f => greenGrid.push({x: a, y: cap * f}));
});

function dots(data, color, r, order) {
  return {
    type: 'scatter', data: data, backgroundColor: color, borderWidth: 0,
    pointRadius: r, pointHoverRadius: r, order: order, clip: 0
  };
}

function line(ctx, x1, y1, x2, y2) {
  ctx.beginPath(); ctx.moveTo(x1, y1); ctx.lineTo(x2, y2); ctx.stroke();
}

function powLabel(ctx, exp, right, y) {
  if (exp[0] !== '−') right -= 7;
  ctx.font = '31px ' + FONT;
  let w1 = ctx.measureText('10').width;
  ctx.font = '21px ' + FONT;
  let w2 = ctx.measureText(exp).width;
  ctx.textAlign = 'left';
  ctx.textBaseline = 'alphabetic';
  ctx.font = '31px ' + FONT;
  ctx.fillText('10', right - w2 - w1, y + 11);
  ctx.font = '21px ' + FONT;
  ctx.fillText(exp, right - w2, y - 1);
}

function framePlugin(yMajor, yMinor, yExp, drawExtra) {
  return {
    id: 'frame',
    afterDraw(chart) {
      const {ctx, chartArea: ca, scales} = chart;
      ctx.save();
      ctx.strokeStyle = '#000';
      ctx.fillStyle = '#000';
      ctx.lineWidth = 1.2;
      xMajor.forEach(v => {
        let x = scales.x.getPixelForValue(v);
        line(ctx, x, ca.bottom, x, ca.bottom - 8);
        line(ctx, x, ca.top, x, ca.top + 8);
      });
      xMinor.forEach(v => {
        let x = scales.x.getPixelForValue(v);
        line(ctx, x, ca.bottom, x, ca.bottom - 4.5);
        line(ctx, x, ca.top, x, ca.top + 4.5);
      });
      yMajor.forEach((v, i) => {
        let y = scales.y.getPixelForValue(v);
        line(ctx, ca.left, y, ca.left + 8, y);
        powLabel(ctx, yExp[i], 168, y);
      });
      yMinor.forEach(v => {
        let y = scales.y.getPixelForValue(v);
        line(ctx, ca.left, y, ca.left + 4.5, y);
      });
      ctx.lineWidth = 1.6;
      ctx.strokeRect(ca.left, ca.top, ca.right - ca.left, ca.bottom - ca.top);
      drawExtra(ctx, chart);
      ctx.restore();
    }
  };
}

function baseOptions(pad, yMin, yMax) {
  return {
    responsive: false,
    animation: false,
    devicePixelRatio: 1,
    events: [],
    layout: {padding: pad},
    plugins: {legend: {display: false}, tooltip: {enabled: false}},
    scales: {
      x: {type: 'linear', min: 41, max: 48, display: false},
      y: {type: 'logarithmic', min: yMin, max: yMax, display: false}
    }
  };
}

new Chart(document.getElementById('topChart'), {
  type: 'scatter',
  data: {
    datasets: [
      {
        type: 'line', data: lineA.map((a, i) => ({x: a, y: lineE[i]})),
        borderColor: 'rgba(150,150,150,1)', borderWidth: 2.4, borderDash: [9, 5],
        pointRadius: 0, fill: false, order: 0, clip: 0
      },
      dots(pts(redAll, 1), RED, DOT, 1),
      dots(pts(blueAll, 1), BLUE, DOT, 2),
      dots(greenA.map(a => ({x: a, y: greenE})), 'rgba(90,195,60,0.9)', 1.6, 3)
    ]
  },
  options: baseOptions({left: 179, right: 56, top: 36, bottom: 436}, 0.0005, 0.5),
  plugins: [framePlugin(eMajor, eMinor, eExp, (ctx) => {
    ctx.font = '31px ' + FONT;
    ctx.translate(75, 187.5);
    ctx.rotate(-Math.PI / 2);
    ctx.textAlign = 'center';
    ctx.fillText('e', 0, 0);
  })]
});

new Chart(document.getElementById('bottomChart'), {
  type: 'scatter',
  data: {
    datasets: [
      dots(pts(redAll, 2), RED, DOT, 1),
      dots(pts(blueAll, 2), BLUE, DOT, 2),
      dots(greenGrid, 'rgba(92,190,60,0.62)', 1.5, 3)
    ]
  },
  options: baseOptions({left: 179, right: 56, top: 339, bottom: 133}, 0.01, 50),
  plugins: [framePlugin(iMajor, iMinor, iExp, (ctx, chart) => {
    const {chartArea: ca, scales} = chart;
    ctx.font = '31px ' + FONT;
    ctx.textAlign = 'center';
    ctx.textBaseline = 'alphabetic';
    xMajor.forEach((v, i) => {
      ctx.fillText(xLabels[i], scales.x.getPixelForValue(v), 677);
    });
    ctx.fillText('a (au)', (ca.left + ca.right) / 2, 727);

    // I_free (deg), rotated
    ctx.textAlign = 'left';
    ctx.font = 'italic 31px ' + FONT;
    let wI = ctx.measureText('I').width;
    ctx.font = 'italic 21px ' + FONT;
    let wF = ctx.measureText('free').width;
    ctx.font = '31px ' + FONT;
    let wD = ctx.measureText(' (deg)').width;
    let start = -(wI + 2 + wF + wD) / 2;
    ctx.translate(70, 492);
    ctx.rotate(-Math.PI / 2);
    ctx.font = 'italic 31px ' + FONT;
    ctx.fillText('I', start, 0);
    ctx.font = 'italic 21px ' + FONT;
    ctx.fillText('free', start + wI + 2, 6);
    ctx.font = '31px ' + FONT;
    ctx.fillText(' (deg)', start + wI + 2 + wF, 0);
  })]
});
</script>
</body>
</html>
